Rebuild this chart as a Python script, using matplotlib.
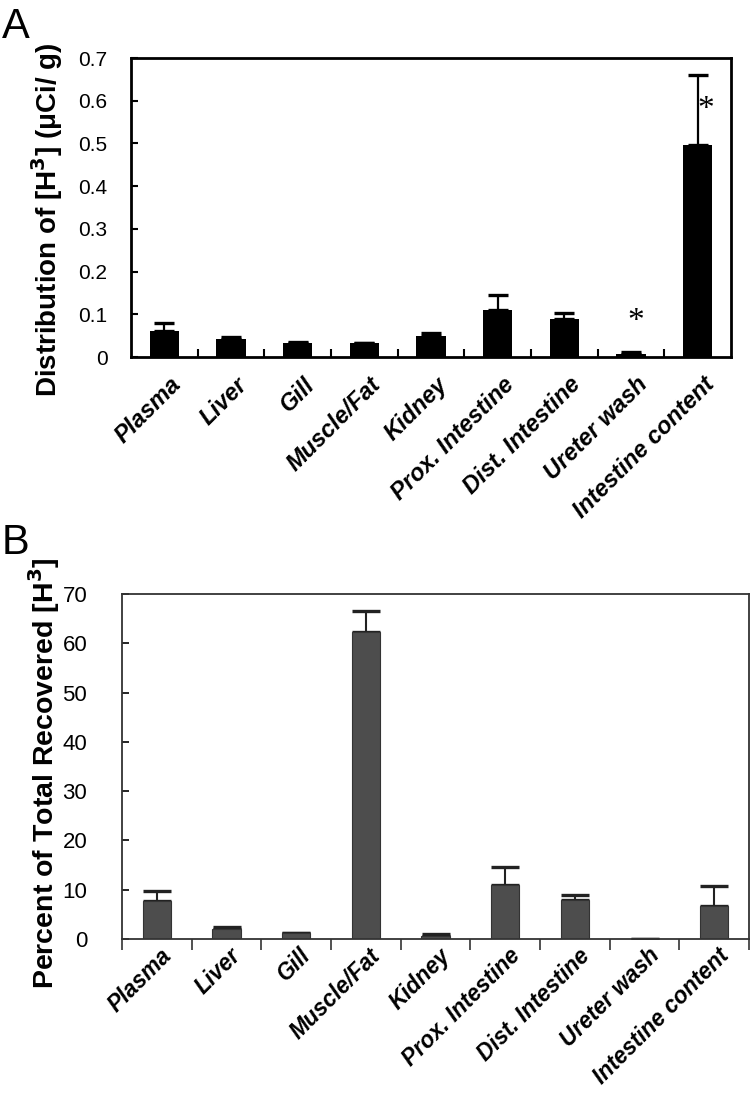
import numpy as np
import matplotlib
matplotlib.use("Agg")
import matplotlib.pyplot as plt
import matplotlib.transforms as mtransforms

plt.rcParams['font.family'] = ['Liberation Sans', 'DejaVu Sans']

# dane
kategorie = ['Plasma', 'Liver', 'Gill', 'Muscle/Fat', 'Kidney', 'Prox. Intestine',
             'Dist. Intestine', 'Ureter wash', 'Intestine content']

# panel A - rozklad (uCi/g)
a_wart = [0.060, 0.043, 0.033, 0.032, 0.050, 0.111, 0.090, 0.008, 0.497]
a_blad = [0.020, 0.003, 0.003, 0.000, 0.006, 0.034, 0.013, 0.003, 0.163]
a_gwiazdki = ['', '', '', '', '', '', '', '*', '*']
a_gw_y = [0, 0, 0, 0, 0, 0, 0, 0.082, 0.578]

# panel B - procent odzyskanego
b_wart = [7.8, 2.0, 1.2, 62.2, 0.6, 11.0, 7.9, 0.05, 6.6]
b_blad = [2.0, 0.5, 0.1, 4.3, 0.5, 3.7, 1.0, 0.0, 4.1]

x = np.arange(len(kategorie))

fig = plt.figure(figsize=(7.54, 10.94), dpi=100)


def etykiety_x(ax, dx, dy, rozm):
    ax.set_xticks(x)
    ax.set_xticklabels(kategorie, rotation=45, ha='right', va='top',
                       rotation_mode='anchor', fontsize=rozm, fontweight='bold',
                       fontstyle='italic')
    ax.tick_params(axis='x', which='major', length=0, pad=0)
    przes = mtransforms.ScaledTranslation(dx / 100, dy / 100, fig.dpi_scale_trans)
    for lab in ax.get_xticklabels():
        lab.set_transform(lab.get_transform() + przes)


# ---- panel A
axA = fig.add_axes([131 / 754, 1 - 357 / 1094, 600 / 754, 299 / 1094])
axA.bar(x, a_wart, width=0.44, color='black', zorder=2)
axA.errorbar(x, a_wart, yerr=[np.zeros(len(a_blad)), a_blad], fmt='none',
             ecolor='black', elinewidth=1.6, capsize=7, capthick=2.4, zorder=1)
for xi, s, gy in zip(x, a_gwiazdki, a_gw_y):
    if s:
        dx = 0.12 if gy > 0.3 else 0.07
        axA.text(xi + dx, gy, s, ha='center', va='center', fontsize=24,
                 family='Liberation Serif')
axA.set_xlim(-0.5, len(kategorie) - 0.5)
axA.set_ylim(0, 0.7)
axA.set_yticks(np.arange(0, 0.71, 0.1))
axA.set_yticklabels(['0'] + ['%.1f' % v for v in np.arange(0.1, 0.71, 0.1)], fontsize=15)
axA.set_xticks(np.arange(0.5, len(kategorie) - 1, 1), minor=True)
axA.tick_params(axis='x', which='minor', direction='in', length=6, width=1.5)
axA.tick_params(axis='y', direction='in', length=5, width=1.5, pad=17)
etykiety_x(axA, 5, -16, 17)
for sp in axA.spines.values():
    sp.set_linewidth(2)
axA.set_ylabel('Distribution of [H$^\\mathbf{3}$] (\u03bcCi/ g)', fontsize=20,
               fontweight='bold')
axA.yaxis.set_label_coords(-0.11, 0.46)
fig.text(0.002, 0.994, 'A', fontsize=30, va='top', ha='left')

# ---- panel B
axB = fig.add_axes([122 / 754, 1 - 939 / 1094, 627 / 754, 345 / 1094])
szary = '#4d4d4d'
axB.bar(x, b_wart, width=0.41, color=szary, edgecolor='#333333', linewidth=0.8, zorder=2)
axB.errorbar(x, b_wart, yerr=[np.zeros(len(b_blad)), b_blad], fmt='none',
             ecolor='#222222', elinewidth=1.5, capsize=10, capthick=2.4, zorder=1)
axB.set_xlim(-0.5, len(kategorie) - 0.5)
axB.set_ylim(0, 70)
axB.set_yticks(np.arange(0, 71, 10))
axB.tick_params(axis='y', direction='in', length=5, width=1.2, labelsize=16, pad=25)
axB.set_xticks(np.arange(-0.5, len(kategorie), 1), minor=True)
axB.tick_params(axis='x', which='minor', direction='out', length=8, width=1.2,
                color='#333333')
etykiety_x(axB, 3, -5, 16.3)
for sp in axB.spines.values():
    sp.set_linewidth(1.3)
    sp.set_color('#333333')
axB.set_ylabel('Percent of Total Recovered [H$^\\mathbf{3}$]', fontsize=20.5,
               fontweight='bold')
axB.yaxis.set_label_coords(-0.096, 0.48)
fig.text(0.002, 0.522, 'B', fontsize=30, va='top', ha='left')

fig.savefig('out.png', dpi=100)
